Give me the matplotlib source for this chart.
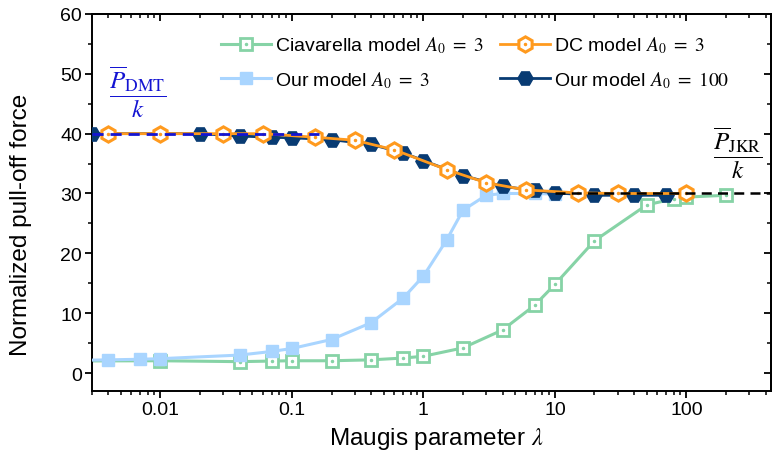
import numpy as np
import matplotlib
matplotlib.use("Agg")
import matplotlib.pyplot as plt
from matplotlib.lines import Line2D
from matplotlib.legend_handler import HandlerTuple
from matplotlib.ticker import LogLocator, FixedLocator, FixedFormatter, MultipleLocator, NullFormatter

plt.rcParams["font.family"] = ["Liberation Sans", "DejaVu Sans"]
plt.rcParams["mathtext.fontset"] = "stix"

# Ciavarella model, A0 = 3
lam_cia = [0.001, 0.01, 0.04, 0.07, 0.1, 0.2, 0.4, 0.7, 1, 2, 4, 7, 10, 20, 50, 80, 100, 200]
f_cia   = [2.0, 2.05, 1.9, 2.0, 2.05, 2.05, 2.2, 2.5, 2.8, 4.2, 7.2, 11.3, 14.8, 22.1, 28.1, 29.1, 29.4, 29.7]

# DC model, A0 = 3
lam_dc = [0.004, 0.01, 0.03, 0.06, 0.15, 0.3, 0.6, 1.5, 3, 6, 15, 30, 100]
f_dc   = [40.0, 40.0, 40.0, 40.0, 39.4, 38.9, 37.3, 34.0, 31.8, 30.6, 30.1, 30.0, 30.0]

# our model, A0 = 3
lam_o3 = [0.001, 0.004, 0.007, 0.01, 0.04, 0.07, 0.1, 0.2, 0.4, 0.7, 1, 1.5, 2, 3, 4, 7, 10]
f_o3   = [2.0, 2.2, 2.3, 2.4, 3.0, 3.6, 4.1, 5.6, 8.4, 12.5, 16.2, 22.2, 27.2, 29.7, 30.0, 30.0, 29.9]

# our model, A0 = 100
lam_o100 = [0.003, 0.02, 0.04, 0.07, 0.1, 0.2, 0.4, 0.7, 1, 2, 4, 7, 10, 20, 40, 70]
f_o100   = [40.0, 40.0, 39.6, 39.4, 39.3, 39.0, 38.2, 36.8, 35.5, 33.0, 31.2, 30.5, 30.1, 29.7, 29.7, 29.7]

# DMT / JKR limits
p_dmt = 40.0
p_jkr = 30.0
dmt_span = [0.003, 0.16]
jkr_span = [10, 440]

xticks = [0.01, 0.1, 1, 10, 100]
xtick_labels = ["0.01", "0.1", "1", "10", "100"]

c_cia = "#86D3A6"
c_dc = "#FF9A1E"
c_o3 = "#A9D5FF"
c_o100 = "#083B73"
c_dmt = "#1414D2"

fig = plt.figure(figsize=(7.73, 4.56), dpi=100)
ax = fig.add_axes([0.1186, 0.1404, 0.8788, 0.8268])

ax.plot(lam_cia, f_cia, "-", color=c_cia, lw=2.2, marker="s", ms=8.5, mfc="white",
        mec=c_cia, mew=2.0, zorder=2)
ax.plot(lam_cia, f_cia, ".", color=c_cia, ms=3, zorder=2.1)
ax.plot(lam_o3, f_o3, "-", color=c_o3, lw=2.2, marker="s", ms=9, mfc=c_o3, mec=c_o3, zorder=3)
ax.plot(lam_o100, f_o100, "-", color=c_o100, lw=2.0, marker="H", ms=11, mfc=c_o100,
        mec=c_o100, zorder=4)
ax.plot(lam_dc, f_dc, "-", color=c_dc, lw=2.0, marker="h", ms=11, mfc="white",
        mec=c_dc, mew=2.2, zorder=5)
ax.plot(lam_dc, f_dc, ".", color=c_dc, ms=3, zorder=5.1)

ax.plot(dmt_span, [p_dmt, p_dmt], "--", color=c_dmt, lw=2.0, dashes=(4, 2.5), zorder=6)
ax.plot(jkr_span, [p_jkr, p_jkr], "--", color="black", lw=1.8, dashes=(4, 2.5), zorder=6)

ax.text(0.0067, 47.0, r"$\dfrac{\overline{P}_{\mathrm{DMT}}}{k}$", color=c_dmt,
        fontsize=18, ha="center", va="center")
ax.text(246, 36.9, r"$\dfrac{\overline{P}_{\mathrm{JKR}}}{k}$", color="black",
        fontsize=18, ha="center", va="center")

ax.set_xscale("log")
ax.set_xlim(0.003, 440)
ax.set_ylim(-3, 60)
ax.xaxis.set_major_locator(FixedLocator(xticks))
ax.xaxis.set_major_formatter(FixedFormatter(xtick_labels))
ax.xaxis.set_minor_locator(LogLocator(base=10, subs=np.arange(2, 10), numticks=20))
ax.xaxis.set_minor_formatter(NullFormatter())
ax.yaxis.set_major_locator(MultipleLocator(10))
ax.yaxis.set_minor_locator(MultipleLocator(5))
ax.set_yticks(range(0, 61, 10))

ax.tick_params(which="major", direction="out", length=5, width=1.3, labelsize=14, pad=2)
ax.tick_params(which="minor", direction="out", length=3, width=1.1)
for sp in ax.spines.values():
    sp.set_linewidth(1.4)

# mirrored ticks pointing inward on top and right
top = ax.secondary_xaxis("top")
top.xaxis.set_major_locator(FixedLocator(xticks))
top.xaxis.set_minor_locator(LogLocator(base=10, subs=np.arange(2, 10), numticks=20))
top.xaxis.set_major_formatter(NullFormatter())
top.xaxis.set_minor_formatter(NullFormatter())
top.tick_params(which="major", direction="in", length=5, width=1.3)
top.tick_params(which="minor", direction="in", length=3, width=1.1)
top.spines["top"].set_linewidth(1.4)

right = ax.secondary_yaxis("right")
right.yaxis.set_major_locator(MultipleLocator(10))
right.yaxis.set_minor_locator(MultipleLocator(5))
right.yaxis.set_major_formatter(NullFormatter())
right.tick_params(which="major", direction="in", length=5, width=1.3)
right.tick_params(which="minor", direction="in", length=3, width=1.1)
right.spines["right"].set_linewidth(1.4)

ax.set_xlabel(r"Maugis parameter $\lambda$", fontsize=17.5)
ax.set_ylabel("Normalized pull-off force", fontsize=17.5)
ax.xaxis.set_label_coords(0.508, -0.09)
ax.yaxis.set_label_coords(-0.088, 0.443)

h_cia = (Line2D([], [], color=c_cia, lw=2.2, marker="s", ms=8.5, mfc="white", mec=c_cia, mew=2.0),
         Line2D([], [], ls="none", marker=".", color=c_cia, ms=3))
h_dc = (Line2D([], [], color=c_dc, lw=2.0, marker="h", ms=11, mfc="white", mec=c_dc, mew=2.2),
        Line2D([], [], ls="none", marker=".", color=c_dc, ms=3))
h_o3 = Line2D([], [], color=c_o3, lw=2.2, marker="s", ms=9, mfc=c_o3, mec=c_o3)
h_o100 = Line2D([], [], color=c_o100, lw=2.0, marker="H", ms=11, mfc=c_o100, mec=c_o100)

ax.legend([h_cia, h_o3, h_dc, h_o100],
          [r"Ciavarella model $A_0\ =\ 3$", r"Our model $A_0\ =\ 3$",
           r"DC model $A_0\ =\ 3$", r"Our model $A_0\ =\ 100$"],
          handler_map={tuple: HandlerTuple(ndivide=1)},
          ncol=2, loc="upper left", bbox_to_anchor=(0.19, 0.945), frameon=False,
          fontsize=14, handlelength=2.6, handletextpad=0.2, columnspacing=0.8,
          labelspacing=0.7, borderpad=0, borderaxespad=0)

fig.savefig("out.png", dpi=100)
